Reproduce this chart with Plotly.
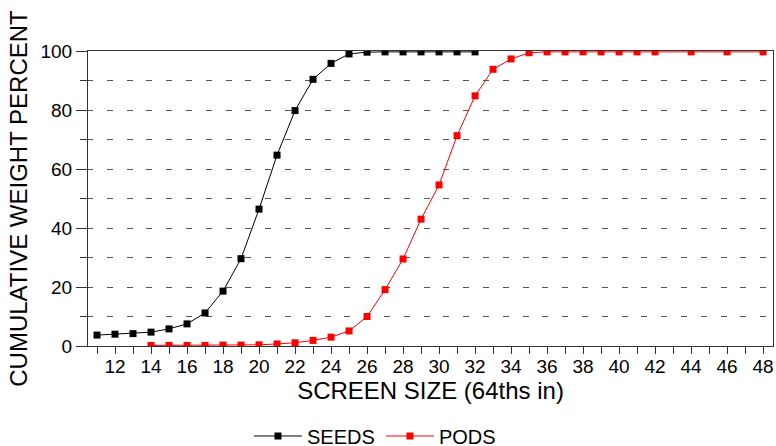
import plotly.graph_objects as go

# ---- data ----
seeds_x = list(range(11, 33))
seeds_y = [3.7, 4.0, 4.2, 4.7, 5.8, 7.5, 11.2, 18.6, 29.6, 46.4, 64.7, 79.8,
           90.4, 95.8, 99.0, 99.6, 99.7, 99.7, 99.7, 99.7, 99.7, 99.7]

pods_x = list(range(14, 43)) + [44, 46, 48]
pods_y = [0.2, 0.2, 0.2, 0.2, 0.3, 0.3, 0.4, 0.7, 1.1, 1.9, 3.0, 5.1, 10.0,
          19.1, 29.5, 43.0, 54.6, 71.3, 84.8, 93.8, 97.3, 99.4, 99.7, 99.7,
          99.7, 99.7, 99.7, 99.7, 99.7, 99.7, 99.7, 99.7]

x_tick_vals = list(range(12, 49, 2))
x_tick_text = [str(v) for v in x_tick_vals]
y_tick_vals = [0, 20, 40, 60, 80, 100]
y_tick_text = [str(v) for v in y_tick_vals]

FONT = "Arial, Liberation Sans, sans-serif"
AXIS_COLOR = "#333333"
GRID_DASH = "5px,13.8px,1px,0px"
GRID_COLOR = "#555555"

fig = go.Figure()
fig.add_trace(go.Scatter(
    x=seeds_x, y=seeds_y, mode="lines+markers", name="SEEDS",
    line=dict(color="black", width=1),
    marker=dict(symbol="square", size=7, color="black"),
))
fig.add_trace(go.Scatter(
    x=pods_x, y=pods_y, mode="lines+markers", name="PODS",
    line=dict(color="#ff0000", width=1),
    marker=dict(symbol="square", size=7, color="#ff0000"),
))

fig.update_layout(
    width=776, height=446,
    margin=dict(l=88, r=3, t=51, b=100, autoexpand=False),
    paper_bgcolor="white", plot_bgcolor="white",
    font=dict(family=FONT, color="black", size=19),
    showlegend=True,
    legend=dict(
        orientation="h", x=0.235, xanchor="left", y=-0.305, yanchor="middle",
        font=dict(size=20, family=FONT), itemwidth=48,
        entrywidth=69, entrywidthmode="pixels",
        bgcolor="rgba(0,0,0,0)",
    ),
)

fig.update_xaxes(
    range=[10.5, 48.55], automargin=False,
    tickmode="array", tickvals=x_tick_vals, ticktext=x_tick_text,
    ticks="outside", ticklen=7, tickwidth=1, tickcolor=AXIS_COLOR,
    tickfont=dict(size=19, family=FONT), ticklabelstandoff=-4,
    minor=dict(dtick=1, tick0=11, ticks="outside", ticklen=7, tickwidth=1,
               tickcolor=AXIS_COLOR, showgrid=False),
    showgrid=False, zeroline=False,
    showline=True, linecolor=AXIS_COLOR, linewidth=1, mirror=True,
    title=dict(text="SCREEN SIZE (64ths in)", font=dict(size=24, family=FONT),
               standoff=0),
)

fig.update_yaxes(
    range=[0, 100], automargin=False,
    tickmode="array", tickvals=y_tick_vals, ticktext=y_tick_text,
    ticks="outside", ticklen=11, tickwidth=1, tickcolor=AXIS_COLOR,
    tickfont=dict(size=19, family=FONT),
    showgrid=True, gridcolor=GRID_COLOR, gridwidth=1, griddash=GRID_DASH,
    minor=dict(dtick=10, tick0=0, ticks="outside", ticklen=7, tickwidth=1,
               tickcolor=AXIS_COLOR, showgrid=True, gridcolor=GRID_COLOR,
               gridwidth=1, griddash=GRID_DASH),
    zeroline=False,
    showline=True, linecolor=AXIS_COLOR, linewidth=1, mirror=True,
    title=dict(text="CUMULATIVE WEIGHT PERCENT", font=dict(size=24, family=FONT),
               standoff=6),
)

fig.write_html("out.html",
               config={"displayModeBar": False},
               post_script="document.body.style.margin='0px';document.body.style.overflow='hidden';")
